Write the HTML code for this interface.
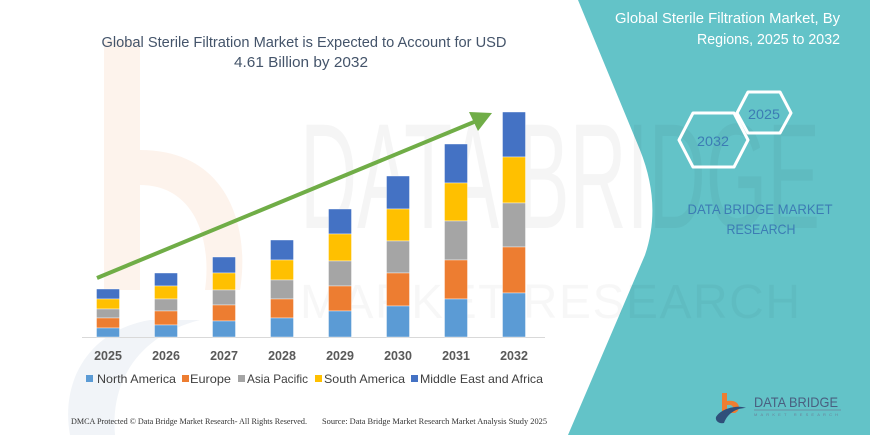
<!DOCTYPE html>
<html>
<head>
<meta charset="utf-8">
<style>
  html, body { margin: 0; padding: 0; background: #ffffff; }
  svg { display: block; }
</style>
</head>
<body>
<svg width="870" height="435" viewBox="0 0 870 435" xmlns="http://www.w3.org/2000/svg">
  <rect x="0" y="0" width="870" height="435" fill="#ffffff"/>

  <!-- faint watermark (left) -->
  <rect x="104" y="40" width="36" height="250" fill="#fdf3ec"/>
  <path d="M140,150 C230,150 250,230 240,290 L205,290 C212,240 195,185 140,185 Z" fill="#fdf3ec"/>
  <path d="M70,435 C60,380 90,330 150,320 L200,320 C140,335 110,380 115,435 Z" fill="#f1f4f8"/>

  <!-- teal panel -->
  <path d="M578,0 L870,0 L870,435 L568,435 L645,255 Q662,205 640,150 Z" fill="#63c3c8"/>

  <!-- watermark text over both regions -->
  <text x="300" y="228" font-family="Liberation Sans, sans-serif" font-size="150" fill="#000000" fill-opacity="0.04" textLength="520" lengthAdjust="spacingAndGlyphs">DATA BRIDGE</text>
  <text x="300" y="318" font-family="Liberation Sans, sans-serif" font-size="48" fill="#000000" fill-opacity="0.03" textLength="500" lengthAdjust="spacing">MARKET RESEARCH</text>

  <!-- main title -->
  <g font-family="Liberation Sans, sans-serif" font-size="15" fill="#44546a" text-anchor="middle">
    <text x="304" y="47" textLength="405" lengthAdjust="spacingAndGlyphs">Global Sterile Filtration Market is Expected to Account for USD</text>
    <text x="301" y="67" textLength="134" lengthAdjust="spacingAndGlyphs">4.61 Billion by 2032</text>
  </g>

  <!-- right title -->
  <g font-family="Liberation Sans, sans-serif" font-size="15" fill="#ffffff" text-anchor="end">
    <text x="840" y="23" textLength="225" lengthAdjust="spacingAndGlyphs">Global Sterile Filtration Market, By</text>
    <text x="840" y="44" textLength="143" lengthAdjust="spacingAndGlyphs">Regions, 2025 to 2032</text>
  </g>

  <!-- hexagons -->
  <g fill="none" stroke="#ffffff" stroke-width="3" stroke-linejoin="round">
    <path d="M737,113 L748,92 L780,92 L791,113 L780,133 L748,133 Z"/>
    <path d="M679,140 L693,113 L734,113 L748,140 L734,167 L693,167 Z"/>
  </g>
  <g font-family="Liberation Sans, sans-serif" font-size="14" fill="#3c7cb4" text-anchor="middle">
    <text x="764" y="119" textLength="32" lengthAdjust="spacingAndGlyphs">2025</text>
    <text x="713" y="146" textLength="32" lengthAdjust="spacingAndGlyphs">2032</text>
    <text x="760" y="214" textLength="145" lengthAdjust="spacingAndGlyphs">DATA BRIDGE MARKET</text>
    <text x="761" y="234" textLength="69" lengthAdjust="spacingAndGlyphs">RESEARCH</text>
  </g>

  <!-- axis line -->
  <line x1="82" y1="337.5" x2="545" y2="337.5" stroke="#d9d9d9" stroke-width="1"/>

  <!-- bars -->
  <g stroke="#ffffff" stroke-width="0.4">
    <!-- 2025 -->
    <rect x="96.5" y="289" width="23" height="10" fill="#4472c4"/>
    <rect x="96.5" y="299" width="23" height="10" fill="#ffc000"/>
    <rect x="96.5" y="309" width="23" height="9" fill="#a5a5a5"/>
    <rect x="96.5" y="318" width="23" height="10" fill="#ed7d31"/>
    <rect x="96.5" y="328" width="23" height="9" fill="#5b9bd5"/>
    <!-- 2026 -->
    <rect x="154.5" y="273" width="23" height="13" fill="#4472c4"/>
    <rect x="154.5" y="286" width="23" height="13" fill="#ffc000"/>
    <rect x="154.5" y="299" width="23" height="12" fill="#a5a5a5"/>
    <rect x="154.5" y="311" width="23" height="14" fill="#ed7d31"/>
    <rect x="154.5" y="325" width="23" height="12" fill="#5b9bd5"/>
    <!-- 2027 -->
    <rect x="212.5" y="257" width="23" height="16" fill="#4472c4"/>
    <rect x="212.5" y="273" width="23" height="17" fill="#ffc000"/>
    <rect x="212.5" y="290" width="23" height="15" fill="#a5a5a5"/>
    <rect x="212.5" y="305" width="23" height="16" fill="#ed7d31"/>
    <rect x="212.5" y="321" width="23" height="16" fill="#5b9bd5"/>
    <!-- 2028 -->
    <rect x="270.5" y="240" width="23" height="20" fill="#4472c4"/>
    <rect x="270.5" y="260" width="23" height="20" fill="#ffc000"/>
    <rect x="270.5" y="280" width="23" height="19" fill="#a5a5a5"/>
    <rect x="270.5" y="299" width="23" height="19" fill="#ed7d31"/>
    <rect x="270.5" y="318" width="23" height="19" fill="#5b9bd5"/>
    <!-- 2029 -->
    <rect x="328.5" y="209" width="23" height="25" fill="#4472c4"/>
    <rect x="328.5" y="234" width="23" height="27" fill="#ffc000"/>
    <rect x="328.5" y="261" width="23" height="25" fill="#a5a5a5"/>
    <rect x="328.5" y="286" width="23" height="25" fill="#ed7d31"/>
    <rect x="328.5" y="311" width="23" height="26" fill="#5b9bd5"/>
    <!-- 2030 -->
    <rect x="386.5" y="176" width="23" height="33" fill="#4472c4"/>
    <rect x="386.5" y="209" width="23" height="32" fill="#ffc000"/>
    <rect x="386.5" y="241" width="23" height="32" fill="#a5a5a5"/>
    <rect x="386.5" y="273" width="23" height="33" fill="#ed7d31"/>
    <rect x="386.5" y="306" width="23" height="31" fill="#5b9bd5"/>
    <!-- 2031 -->
    <rect x="444.5" y="144" width="23" height="39" fill="#4472c4"/>
    <rect x="444.5" y="183" width="23" height="38" fill="#ffc000"/>
    <rect x="444.5" y="221" width="23" height="39" fill="#a5a5a5"/>
    <rect x="444.5" y="260" width="23" height="39" fill="#ed7d31"/>
    <rect x="444.5" y="299" width="23" height="38" fill="#5b9bd5"/>
    <!-- 2032 -->
    <rect x="502.5" y="112" width="23" height="45" fill="#4472c4"/>
    <rect x="502.5" y="157" width="23" height="46" fill="#ffc000"/>
    <rect x="502.5" y="203" width="23" height="44" fill="#a5a5a5"/>
    <rect x="502.5" y="247" width="23" height="46" fill="#ed7d31"/>
    <rect x="502.5" y="293" width="23" height="44" fill="#5b9bd5"/>
  </g>

  <!-- arrow -->
  <line x1="97" y1="278" x2="474" y2="122" stroke="#70ad47" stroke-width="4" stroke-linecap="butt"/>
  <polygon points="492,113 469,112 478,131" fill="#70ad47"/>

  <!-- year labels -->
  <g font-family="Liberation Sans, sans-serif" font-size="12.5" font-weight="bold" fill="#595959" text-anchor="middle">
    <text x="108" y="360">2025</text>
    <text x="166" y="360">2026</text>
    <text x="224" y="360">2027</text>
    <text x="282" y="360">2028</text>
    <text x="340" y="360">2029</text>
    <text x="398" y="360">2030</text>
    <text x="456" y="360">2031</text>
    <text x="514" y="360">2032</text>
  </g>

  <!-- legend -->
  <g font-family="Liberation Sans, sans-serif" font-size="12" fill="#404040">
    <rect x="86" y="375" width="7" height="7" fill="#5b9bd5"/>
    <text x="97" y="383" textLength="79" lengthAdjust="spacingAndGlyphs">North America</text>
    <rect x="182" y="375" width="7" height="7" fill="#ed7d31"/>
    <text x="190" y="383" textLength="41" lengthAdjust="spacingAndGlyphs">Europe</text>
    <rect x="238" y="375" width="7" height="7" fill="#a5a5a5"/>
    <text x="247" y="383" textLength="61" lengthAdjust="spacingAndGlyphs">Asia Pacific</text>
    <rect x="315" y="375" width="7" height="7" fill="#ffc000"/>
    <text x="324" y="383" textLength="81" lengthAdjust="spacingAndGlyphs">South America</text>
    <rect x="411" y="375" width="7" height="7" fill="#4472c4"/>
    <text x="420" y="383" textLength="123" lengthAdjust="spacingAndGlyphs">Middle East and Africa</text>
  </g>

  <!-- footer -->
  <g font-family="Liberation Serif, serif" font-size="8" fill="#333333">
    <text x="71" y="424" textLength="236" lengthAdjust="spacingAndGlyphs">DMCA Protected © Data Bridge Market Research- All Rights Reserved.</text>
    <text x="322" y="424" textLength="225" lengthAdjust="spacingAndGlyphs">Source: Data Bridge Market Research Market Analysis Study 2025</text>
  </g>

  <!-- logo bottom right -->
  <g>
    <rect x="722" y="393" width="5" height="18" fill="#ee7d31"/>
    <path d="M727,401 C740,399 742,410 735,413 L730,413 C735,409 734,404 727,405 Z" fill="#ee7d31"/>
    <path d="M716,417 C722,407 740,405 746,408 C738,408 728,412 724,423 C719,424 715,421 716,417 Z" fill="#2f4f7a"/>
    <text x="754" y="407" font-family="Liberation Sans, sans-serif" font-size="14" fill="#4a5f80" textLength="84" lengthAdjust="spacingAndGlyphs">DATA BRIDGE</text>
    <line x1="754" y1="410" x2="841" y2="410" stroke="#6b8198" stroke-width="0.8"/>
    <text x="754" y="416" font-family="Liberation Sans, sans-serif" font-size="4" fill="#6b8198" textLength="84" lengthAdjust="spacing">MARKET RESEARCH</text>
  </g>
</svg>
</body>
</html>
